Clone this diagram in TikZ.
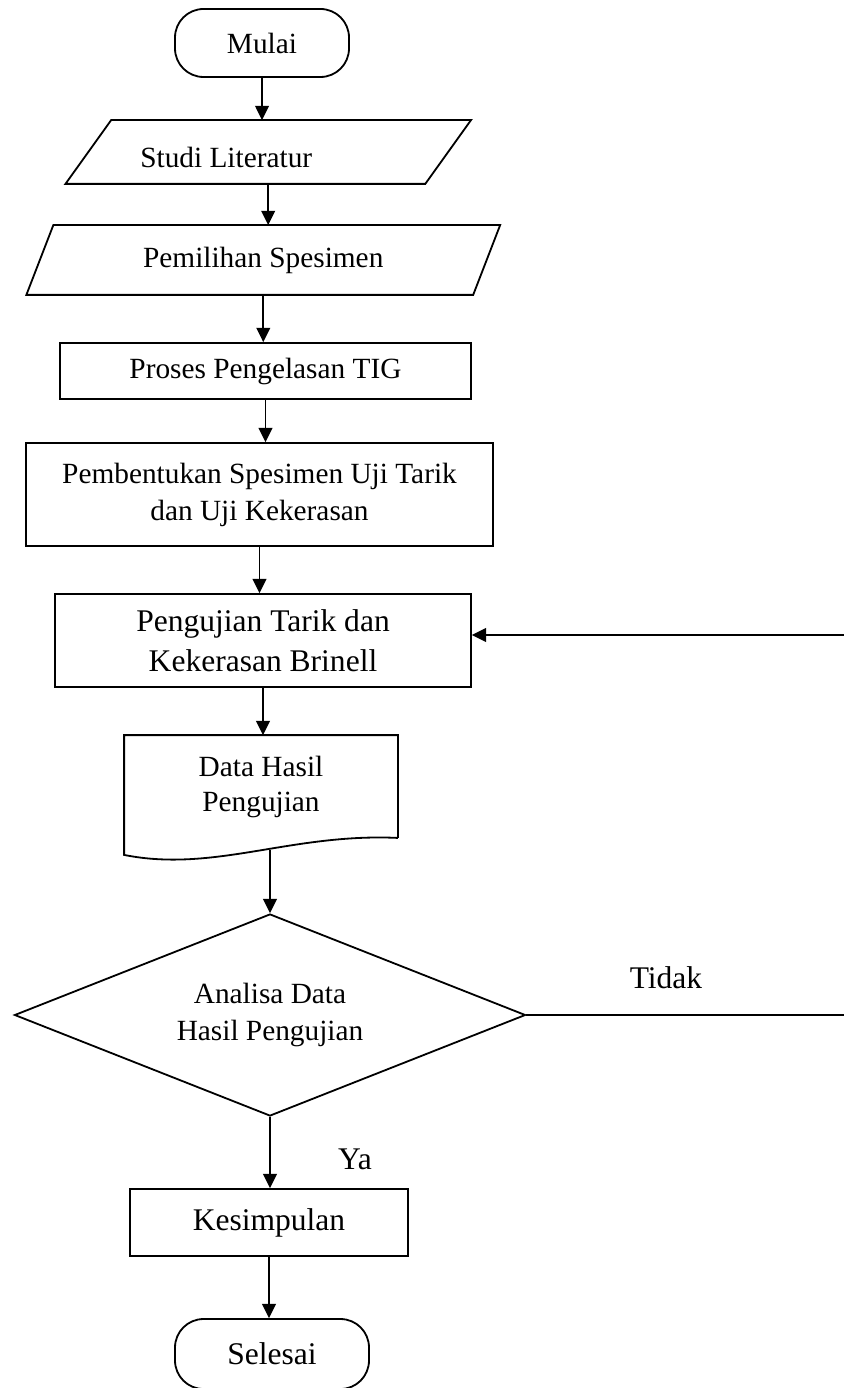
\documentclass[tikz,border=0pt]{standalone}
\usepackage{fontspec}
\setmainfont{Liberation Serif}
\usetikzlibrary{shapes.geometric,arrows.meta}

\begin{document}
\begin{tikzpicture}[line width=0.9pt,>={Triangle[length=0.25cm,width=0.24cm]},
    txt/.style={font=\fontsize{14.6}{18.4}\selectfont},
    big/.style={font=\fontsize{15.7}{19.9}\selectfont},
    box/.style={draw,rectangle,align=center,inner sep=0pt},
    term/.style={draw,rectangle,rounded corners=0.5cm,inner sep=0pt},
    body/.style={rectangle,inner sep=0pt,align=center},
    dec/.style={draw,diamond,aspect=2.5,inner sep=0pt,align=center}]
    \useasboundingbox (0,0) rectangle (14.7525,-24.29);
    \node[term,txt,minimum width=3.045cm,minimum height=1.19cm] (mulai) at (4.585,-0.7525) {Mulai};
    \node[body,minimum width=6.265cm,minimum height=1.085cm,
        label={[txt,xshift=-0.735cm,yshift=-0.1cm]center:Studi Literatur}] (studi) at (4.694,-2.66) {};
    \draw ([xshift=0.4cm]studi.north west) -- ([xshift=0.4cm]studi.north east) -- ([xshift=-0.4cm]studi.south east) -- ([xshift=-0.4cm]studi.south west) -- cycle;
    \node[body,txt,minimum width=7.7875cm,minimum height=1.19cm] (pemilihan) at (4.607,-4.55) {Pemilihan Spesimen};
    \draw ([xshift=0.236cm]pemilihan.north west) -- ([xshift=0.236cm]pemilihan.north east) -- ([xshift=-0.236cm]pemilihan.south east) -- ([xshift=-0.236cm]pemilihan.south west) -- cycle;
    \node[box,txt,minimum width=7.1925cm,minimum height=0.98cm] (proses) at (4.646,-6.4925) {Proses Pengelasan TIG};
    \node[box,txt,minimum width=8.1725cm,minimum height=1.8025cm] (pembentukan) at (4.541,-8.654) {Pembentukan Spesimen Uji Tarik\\dan Uji Kekerasan};
    \node[box,big,minimum width=7.28cm,minimum height=1.6275cm] (pengujian) at (4.6025,-11.209) {Pengujian Tarik dan\\Kekerasan Brinell};
    \node[body,font=\fontsize{14.6}{17.4}\selectfont,minimum width=4.76cm,minimum height=1.7675cm] (data) at (4.5675,-13.764) {Data Hasil\\Pengujian};
    \draw (data.south east) -- (data.north east) -- (data.north west) -- ([yshift=-0.2975cm]data.south west)
        .. controls ([shift={(1.575,-0.6125)}]data.south west) and ([shift={(-1.8725,0.0875)}]data.south east) .. (data.south east);
    \node[dec,txt,minimum width=8.9425cm,minimum height=3.535cm] (analisa) at (4.725,-17.7625) {Analisa Data\\Hasil Pengujian};
    \node[box,big,minimum width=4.865cm,minimum height=1.1725cm] (kesimpulan) at (4.7075,-21.394) {Kesimpulan};
    \node[term,big,minimum width=3.395cm,minimum height=1.225cm] (selesai) at (4.76,-23.695) {Selesai};
    \node[big] (tidak) at (11.655,-17.115) {Tidak};
    \node[big] (ya) at (6.2125,-20.2825) {Ya};
    \coordinate (dataout) at (4.725,-14.875);
    \coordinate (back) at (14.9,-11.1125);
    \draw[->] (mulai.south) -- (mulai.south |- studi.north);
    \draw[->] (studi.south) -- (studi.south |- pemilihan.north);
    \draw[->] (pemilihan.south) -- (pemilihan.south |- proses.north);
    \draw[->] (proses.south) -- (proses.south |- pembentukan.north);
    \draw[->] (pembentukan.south) -- (pembentukan.south |- pengujian.north);
    \draw[->] (pengujian.south) -- (pengujian.south |- data.north);
    \draw[->] (dataout) -- (analisa.north);
    \draw[->] (analisa.south) -- (analisa.south |- kesimpulan.north);
    \draw[->] (kesimpulan.south) -- (kesimpulan.south |- selesai.north);
    \draw[->] (analisa.east) -| (back) -- (back -| pengujian.east);
\end{tikzpicture}
\end{document}
